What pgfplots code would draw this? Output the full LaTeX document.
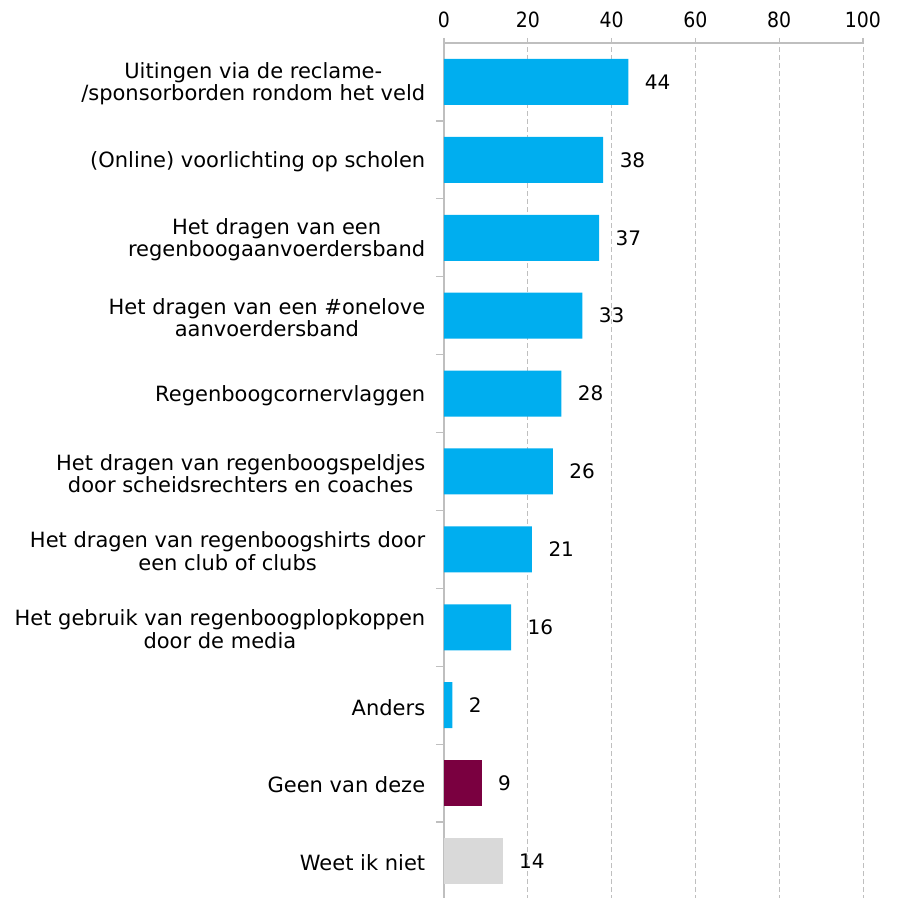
\documentclass[border=0pt]{standalone}
\usepackage{pgfplots}
\pgfplotsset{compat=1.18}
\usepackage{fontspec}
\setmainfont{DejaVu Sans}
\newfontfamily\condfont{DejaVu Sans Condensed}
\definecolor{barblue}{HTML}{00AEEF}
\definecolor{barmaroon}{HTML}{7A0040}
\definecolor{bargrey}{HTML}{D9D9D9}
\definecolor{axisgrey}{HTML}{BFBFBF}
\begin{document}
\begin{tikzpicture}
\useasboundingbox (-444pt,3pt) rectangle (457pt,900pt);
\begin{axis}[
  at={(0,0)}, anchor=south west,
  scale only axis, width=419pt, height=857pt,
  xmin=0, xmax=100, ymin=-0.5, ymax=10.5,
  axis x line*=top, axis y line*=left,
  axis line style={axisgrey, line width=1.2pt},
  xtick={0,20,...,100},
  xticklabel style={font=\condfont\fontsize{21}{24}\selectfont, yshift=7pt},
  /pgf/number format/assume math mode=true,
  xmajorgrids, grid style={axisgrey, dashed, line width=0.8pt, dash pattern=on 5pt off 3pt},
  major tick style={axisgrey, line width=1.2pt},
  minor tick style={axisgrey, line width=1.2pt},
  tick align=outside,
  xtick style={/pgfplots/major tick length=5pt},
  ytick={0,...,10},
  ytick style={/pgfplots/major tick length=0pt},
  minor ytick={0.5,1.5,...,9.5},
  minor tick length=8pt,
  yticklabels={
    {Weet ik niet},
    {Geen van deze},
    {Anders},
    {Het gebruik van regenboogplopkoppen\\door de media},
    {Het dragen van regenboogshirts door\\een club of clubs},
    {Het dragen van regenboogspeldjes\\door scheidsrechters en coaches},
    {Regenboogcornervlaggen},
    {Het dragen van een \#onelove\\aanvoerdersband},
    {Het dragen van een\\regenboogaanvoerdersband},
    {(Online) voorlichting op scholen},
    {Uitingen via de reclame-\\/sponsorborden rondom het veld}},
  yticklabel style={align=center, font=\fontsize{21}{22.5}\selectfont, xshift=-11pt, yshift=-2pt},
  xbar, bar width=46pt, bar shift=0pt,
  nodes near coords,
  nodes near coords style={font=\fontsize{20}{22}\selectfont, anchor=west, xshift=13pt, text=black},
]
\addplot[fill=barblue, draw=none] coordinates {(44,10) (38,9) (37,8) (33,7) (28,6) (26,5) (21,4) (16,3) (2,2)};
\addplot[fill=barmaroon, draw=none] coordinates {(9,1)};
\addplot[fill=bargrey, draw=none] coordinates {(14,0)};
\end{axis}
\end{tikzpicture}
\end{document}
